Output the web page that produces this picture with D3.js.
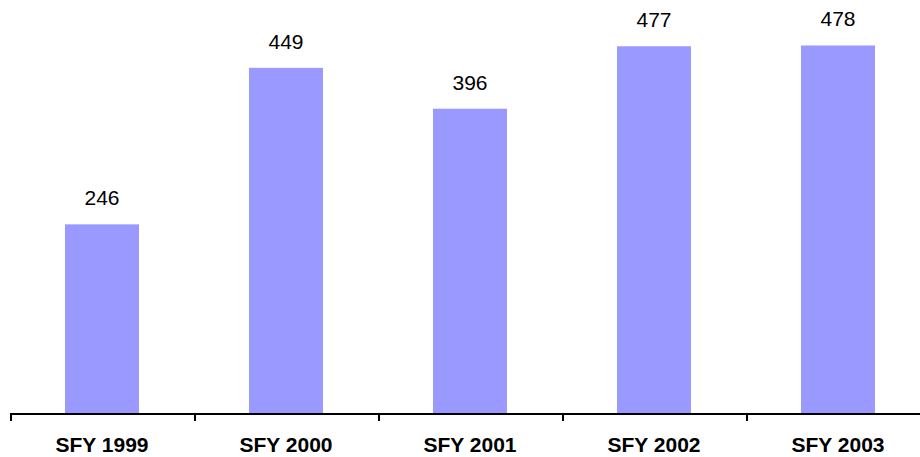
<!DOCTYPE html>
<html lang="en">
<head>
    <meta charset="UTF-8">
    <title>SFY Totals</title>
    <style>
        body { margin: 0; background: #fff; }
        text { font-family: "Liberation Sans", Arial, sans-serif; }
    </style>
</head>
<body>
    <script src="https://d3js.org/d3.v7.min.js"></script>
    <div id="container"></div>
    <script>
        var categories = ['SFY 1999', 'SFY 2000', 'SFY 2001', 'SFY 2002', 'SFY 2003'];
        var values = [246, 449, 396, 477, 478];

        var containerWidth = 920, containerHeight = 457;
        var baseline = 414;

        var x = d3.scaleBand().domain(categories).range([10, 930]).paddingInner(0).paddingOuter(0);
        var y = d3.scaleLinear().domain([0, 537]).range([baseline, 0]);
        var barWidth = 74;

        var svg = d3.select('#container').append('svg')
            .attr('width', containerWidth).attr('height', containerHeight);

        var bars = svg.append('g').attr('class', 'bars');
        bars.selectAll('rect').data(categories).enter()
            .append('rect')
            .attr('x', function(d) { return x(d) + x.bandwidth() / 2 - barWidth / 2; })
            .attr('y', function(d, i) { return y(values[i]); })
            .attr('width', barWidth)
            .attr('height', function(d, i) { return baseline - y(values[i]); })
            .attr('fill', '#9999ff');

        bars.selectAll('text').data(categories).enter()
            .append('text')
            .attr('x', function(d) { return x(d) + x.bandwidth() / 2; })
            .attr('y', function(d, i) { return y(values[i]) - 19; })
            .attr('text-anchor', 'middle')
            .attr('font-size', '21px')
            .attr('fill', '#000')
            .text(function(d, i) { return values[i]; });

        // axis: line plus ticks at the category boundaries
        var axis = svg.append('g').attr('transform', 'translate(0,' + baseline + ')');
        axis.append('line')
            .attr('x1', x.range()[0]).attr('x2', x.range()[1])
            .attr('stroke', '#000').attr('stroke-width', 2);
        var bounds = categories.map(function(d) { return x(d); }).concat([x.range()[1]]);
        axis.selectAll('.tick').data(bounds).enter()
            .append('line').attr('class', 'tick')
            .attr('x1', function(d) { return d + 1; }).attr('x2', function(d) { return d + 1; })
            .attr('y1', 0).attr('y2', 7)
            .attr('stroke', '#000').attr('stroke-width', 2);
        axis.selectAll('.lbl').data(categories).enter()
            .append('text').attr('class', 'lbl')
            .attr('x', function(d) { return x(d) + x.bandwidth() / 2; })
            .attr('y', 38)
            .attr('text-anchor', 'middle')
            .attr('font-size', '21px')
            .attr('font-weight', 'bold')
            .text(function(d) { return d; });
    </script>
</body>
</html>
